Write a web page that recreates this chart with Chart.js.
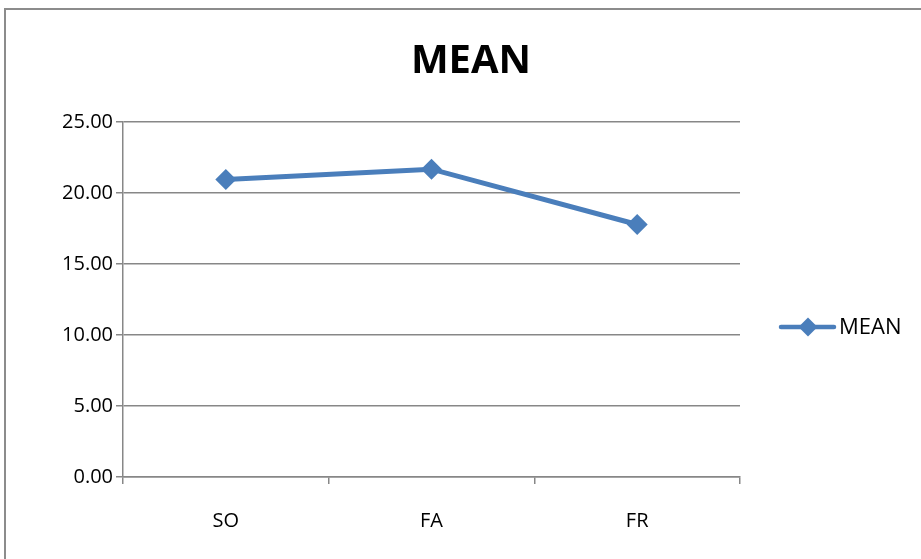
<!DOCTYPE html>
<html>
<head>
<meta charset="utf-8">
<script src="https://cdn.jsdelivr.net/npm/chart.js@4/dist/chart.umd.min.js"></script>
<style>
  html, body { margin: 0; padding: 0; background: #ffffff; }
  #wrap { position: relative; width: 921px; height: 559px; overflow: hidden; }
  canvas { display: block; }
</style>
</head>
<body>
<div id="wrap"><canvas id="chart" width="921" height="559"></canvas></div>
<script>
// Group means by category
const categories = ['SO', 'FA', 'FR'];
const meanValues = [20.95, 21.68, 17.78];
const seriesLabel = 'MEAN';
const chartTitle = 'MEAN';

const lineBlue = '#4a7ebb';
const gridGrey = '#878787';
const fontFamily = '"Open Sans", "Noto Sans", sans-serif';

// Outer frame, centered title and a line-with-marker legend on the right
const decorations = {
  id: 'decorations',
  beforeDraw(chart) {
    const ctx = chart.ctx;
    ctx.save();
    ctx.fillStyle = '#ffffff';
    ctx.fillRect(0, 0, chart.width, chart.height);
    ctx.strokeStyle = '#8c8c8c';
    ctx.lineWidth = 2;
    ctx.beginPath();
    ctx.moveTo(5, chart.height + 5);
    ctx.lineTo(5, 9);
    ctx.lineTo(chart.width + 5, 9);
    ctx.stroke();
    ctx.restore();
  },
  afterDraw(chart) {
    const ctx = chart.ctx;
    ctx.save();
    // title
    ctx.fillStyle = '#000000';
    ctx.font = 'bold 40px ' + fontFamily;
    ctx.textAlign = 'center';
    ctx.textBaseline = 'middle';
    ctx.fillText(chartTitle, 471, 62);
    // legend
    const ds = chart.data.datasets[0];
    const y = 327;
    ctx.strokeStyle = ds.borderColor;
    ctx.lineWidth = 4.5;
    ctx.lineCap = 'round';
    ctx.beginPath();
    ctx.moveTo(781, y);
    ctx.lineTo(834, y);
    ctx.stroke();
    ctx.fillStyle = ds.backgroundColor;
    const r = 9.5;
    ctx.beginPath();
    ctx.moveTo(808, y - r);
    ctx.lineTo(808 + r, y);
    ctx.lineTo(808, y + r);
    ctx.lineTo(808 - r, y);
    ctx.closePath();
    ctx.fill();
    ctx.fillStyle = '#000000';
    ctx.font = '22px ' + fontFamily;
    ctx.textAlign = 'left';
    ctx.textBaseline = 'middle';
    ctx.fillText(ds.label, 839, y + 1);
    ctx.restore();
  }
};

new Chart(document.getElementById('chart'), {
  type: 'line',
  data: {
    labels: categories,
    datasets: [{
      label: seriesLabel,
      data: meanValues,
      borderColor: lineBlue,
      backgroundColor: lineBlue,
      borderWidth: 5,
      pointStyle: 'rectRot',
      pointRadius: 10.5,
      pointHoverRadius: 10.5,
      pointBorderWidth: 0,
      tension: 0
    }]
  },
  options: {
    responsive: false,
    animation: false,
    devicePixelRatio: 1,
    layout: { padding: { top: 122, right: 181, bottom: 0, left: 0 } },
    plugins: {
      legend: { display: false },
      title: { display: false },
      tooltip: { enabled: false }
    },
    scales: {
      x: {
        offset: true,
        afterFit(scale) { scale.height = 82; },
        grid: {
          offset: true,
          drawOnChartArea: false,
          drawTicks: true,
          tickLength: 7,
          color: gridGrey,
          lineWidth: 1.5
        },
        border: { display: true, color: gridGrey, width: 1.5 },
        ticks: {
          color: '#000000',
          font: { family: fontFamily, size: 20 },
          padding: 25,
          maxRotation: 0
        }
      },
      y: {
        min: 0,
        max: 25,
        afterFit(scale) { scale.width = 123; },
        grid: {
          color: gridGrey,
          lineWidth: 1.5,
          tickLength: 7
        },
        border: { display: true, color: gridGrey, width: 1.5 },
        ticks: {
          stepSize: 5,
          color: '#000000',
          font: { family: fontFamily, size: 20 },
          padding: 3,
          callback: (v) => Number(v).toFixed(2)
        }
      }
    }
  },
  plugins: [decorations]
});
</script>
</body>
</html>
